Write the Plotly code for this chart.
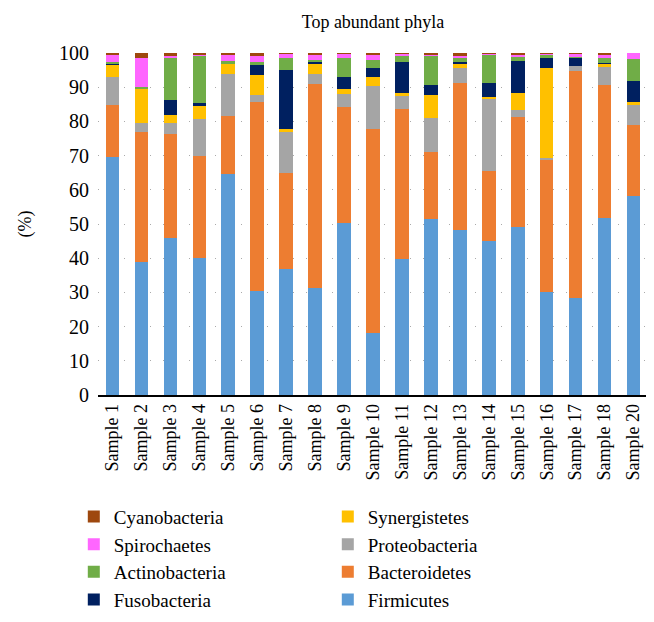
import plotly.graph_objects as go

samples = ["Sample 1", "Sample 2", "Sample 3", "Sample 4", "Sample 5", "Sample 6",
           "Sample 7", "Sample 8", "Sample 9", "Sample 10", "Sample 11", "Sample 12",
           "Sample 13", "Sample 14", "Sample 15", "Sample 16", "Sample 17", "Sample 18",
           "Sample 20"]

firmicutes     = [69.5, 38.8, 45.9, 40.2, 64.6, 30.5, 36.9, 31.2, 50.2, 18.1, 39.8, 51.4, 48.3, 44.9, 49.0, 30.0, 28.4, 51.9, 58.3]
bacteroidetes  = [15.3, 38.2, 30.3, 29.8, 17.1, 55.2, 27.9, 59.7, 33.9, 59.7, 43.8, 19.8, 42.9, 20.5, 32.4, 38.6, 66.4, 38.6, 20.7]
proteobacteria = [8.1, 2.5, 3.3, 10.7, 12.1, 1.9, 12.1, 2.9, 4.0, 12.5, 3.8, 9.9, 4.3, 21.3, 1.9, 0.6, 1.4, 5.4, 5.8]
synergistetes  = [3.6, 10.0, 2.4, 3.8, 2.9, 5.9, 0.9, 2.9, 1.4, 2.8, 1.0, 6.5, 1.4, 0.4, 5.0, 26.5, 0.0, 1.0, 0.9]
fusobacteria   = [0.3, 0.2, 4.4, 0.9, 0.0, 3.1, 17.1, 0.8, 3.6, 2.6, 9.0, 2.9, 0.6, 4.1, 9.5, 2.7, 2.4, 0.3, 6.2]
actinobacteria = [0.7, 0.5, 12.5, 13.8, 0.9, 0.7, 3.7, 0.6, 5.5, 2.4, 1.6, 8.7, 1.1, 8.5, 1.1, 1.1, 0.2, 1.2, 6.4]
spirochaetes   = [2.0, 8.4, 0.2, 0.5, 1.9, 1.9, 1.2, 1.3, 1.2, 1.4, 0.8, 0.5, 0.6, 0.2, 0.4, 0.3, 1.0, 1.3, 1.7]
cyanobacteria  = [0.5, 1.4, 1.0, 0.3, 0.5, 0.8, 0.2, 0.6, 0.2, 0.5, 0.2, 0.3, 0.8, 0.1, 0.7, 0.2, 0.4, 0.3, 0.0]

series = [
    ("Firmicutes", firmicutes, "#5B9BD5", 8),
    ("Bacteroidetes", bacteroidetes, "#ED7D31", 6),
    ("Proteobacteria", proteobacteria, "#A5A5A5", 4),
    ("Synergistetes", synergistetes, "#FFC000", 2),
    ("Fusobacteria", fusobacteria, "#002060", 7),
    ("Actinobacteria", actinobacteria, "#70AD47", 5),
    ("Spirochaetes", spirochaetes, "#FF66FF", 3),
    ("Cyanobacteria", cyanobacteria, "#9E480E", 1),
]

FONT = "Liberation Serif"

fig = go.Figure()
for name, vals, color, rank in series:
    fig.add_trace(go.Bar(
        x=samples, y=vals, name=name, marker_color=color,
        marker_line_width=0, legendrank=rank,
    ))

fig.update_layout(
    barmode="stack",
    bargap=0.53,
    width=654, height=622,
    margin=dict(l=90, r=14, t=45, b=227),
    paper_bgcolor="white", plot_bgcolor="white",
    font=dict(family=FONT, size=18, color="black"),
    title=dict(text="Top abundant phyla", x=0.5, xanchor="center", xref="paper",
               y=0.978, yanchor="middle", font=dict(family=FONT, size=18)),
    legend=dict(orientation="h", x=-0.044, xanchor="left", y=-0.3, yanchor="top",
                entrywidth=209, entrywidthmode="pixels",
                font=dict(family=FONT, size=19), itemwidth=30,
                traceorder="normal"),
    showlegend=True,
)
fig.update_xaxes(showline=True, linecolor="black", linewidth=1.5, ticks="",
                 tickangle=-90, tickfont=dict(family=FONT, size=18),
                 showgrid=False)
fig.update_yaxes(range=[0, 100], dtick=10, showline=False, ticks="",
                 showgrid=True, gridcolor="#AAAAAA", griddash="1px,12px", gridwidth=1,
                 zeroline=False, tickfont=dict(family=FONT, size=20),
                 ticklabelstandoff=8,
                 title=dict(text="(%)", font=dict(family=FONT, size=18), standoff=22))

fig.write_html("out.html")
